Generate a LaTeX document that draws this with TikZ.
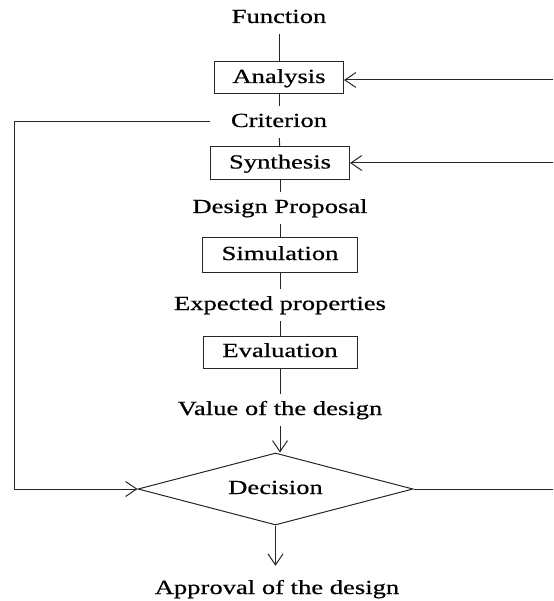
\documentclass[tikz,border=0pt]{standalone}
\usepackage{fontspec}
\setmainfont{Liberation Serif}[FakeStretch=1.33,FakeBold=0.6]
\usetikzlibrary{shapes.geometric,arrows.meta}
\begin{document}
\begin{tikzpicture}[x=1pt,y=-1pt,
  every node/.style={font=\fontsize{20}{24}\selectfont, text height=14pt, text depth=4pt},
  lbl/.style={inner xsep=5pt, inner ysep=7pt, anchor=base},
  stepbox/.style={draw=black!85, line width=1pt, inner sep=0pt},
  decbox/.style={draw=black!85, line width=1pt, diamond, aspect=3.8, minimum width=275pt, minimum height=72pt, inner sep=0pt},
  conn/.style={draw=black!85, line width=1pt},
  arr/.style={conn, -{Straight Barb[length=11pt,width=15pt,line width=1pt]}}
]
\useasboundingbox (0,0) rectangle (553,601);

\node[lbl] (func) at (279,23) {Function};
\node[stepbox, minimum width=129pt, minimum height=32pt] (ana) at (279,78) {Analysis};
\node[lbl] (crit) at (279,127) {Criterion};
\node[stepbox, minimum width=139pt, minimum height=33pt] (syn) at (280,163.5) {Synthesis};
\node[lbl] (dp) at (280,213) {Design Proposal};
\node[stepbox, minimum width=155pt, minimum height=34pt] (sim) at (280,255) {Simulation};
\node[lbl] (ep) at (280,310) {Expected properties};
\node[stepbox, minimum width=154pt, minimum height=32pt] (eval) at (280,352) {Evaluation};
\node[lbl] (val) at (280,415) {Value of the design};
\node[decbox] (dec) at (275.5,489) {Decision};
\node[lbl] (appr) at (277,594) {Approval of the design};

\coordinate (ra) at (553,80);
\coordinate (rs) at (553,163);
\coordinate (rd) at (553,489);
\coordinate (lc) at (14,0);

\draw[conn] (func) -- (ana);
\draw[conn] (ana) -- (crit);
\draw[conn] (crit) -- (syn);
\draw[conn] (syn) -- (dp);
\draw[conn] (dp) -- (sim);
\draw[conn] (sim) -- (ep);
\draw[conn] (ep) -- (eval);
\draw[conn] (eval) -- (val);
\draw[arr] (val.south) -- (val.south |- dec.north);
\draw[arr, shorten >=7pt] (dec.south) -- (dec.south |- appr.north);

\draw[arr] (ra) -- (ra -| ana.east);
\draw[arr] (rs) -- (rs -| syn.east);
\draw[conn] (dec.east) -- (rd);
\draw[arr] ([xshift=-16pt]crit.west) -| (lc |- dec.west) -- (dec.west);
\end{tikzpicture}
\end{document}
